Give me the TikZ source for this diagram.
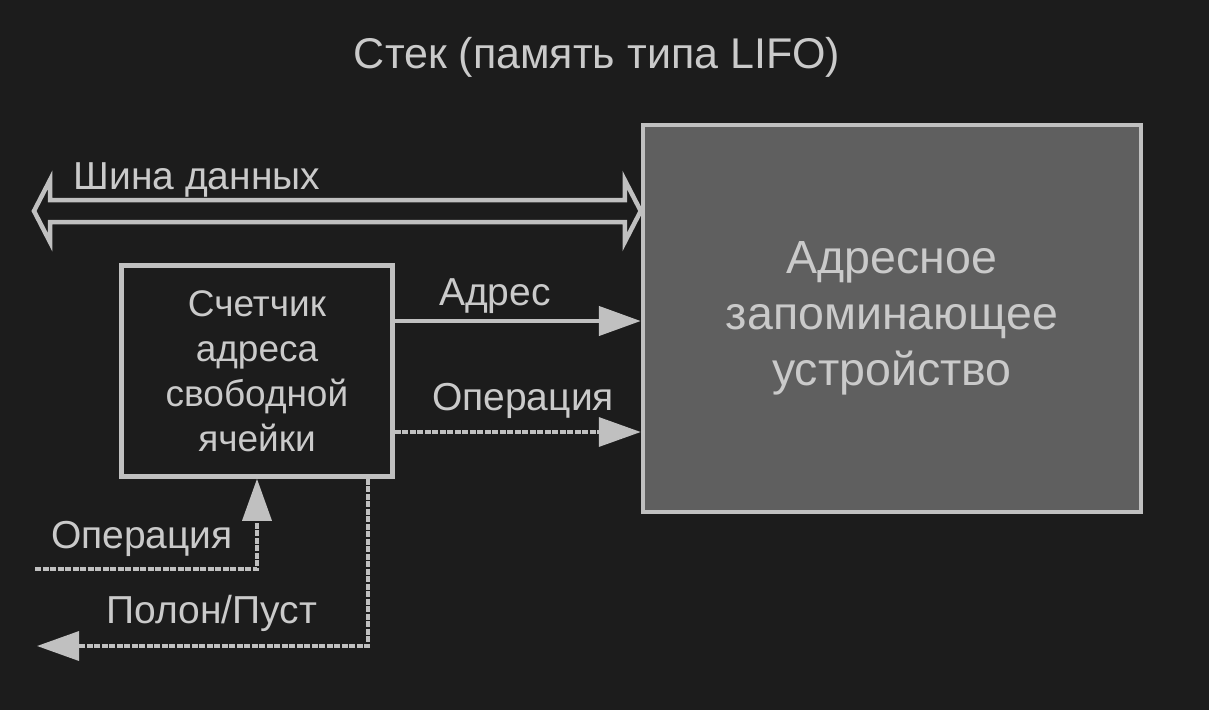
\documentclass[tikz,border=0pt]{standalone}
\usepackage{fontspec}
\setmainfont{Liberation Sans}
\usetikzlibrary{arrows.meta}
\definecolor{bg}{HTML}{1C1C1C}
\definecolor{ln}{HTML}{C0C0C0}
\definecolor{tx}{HTML}{CACACA}
\definecolor{boxfill}{HTML}{5F5F5F}
\begin{document}
\begin{tikzpicture}[x=1pt,y=-1pt,
  boxstyle/.style={draw=ln, line width=4.5pt, inner sep=0pt, align=center, text=tx},
  lbl/.style={text=tx, inner sep=0pt, font=\fontsize{39}{44}\selectfont},
  solidarr/.style={draw=ln, line width=4.5pt, -{Triangle[length=42pt,width=29pt]}, ln},
  dasharr/.style={draw=ln, line width=3.5pt, dash pattern=on 6pt off 1.5pt},
  tip/.style={-{Triangle[length=42pt,width=29pt]}}
]
\fill[bg] (0,0) rectangle (1209,710);
\useasboundingbox (0,0) rectangle (1209,710);

\node[text=tx, inner sep=0pt, font=\fontsize{43}{48}\selectfont] (title) at (597,57) {Стек (память типа LIFO)};

\node[boxstyle, fill=boxfill, minimum width=498pt, minimum height=387pt,
      font=\fontsize{46.5}{56}\selectfont] (mem) at (892,318.5)
      {Адресное\\запоминающее\\устройство};

\node[boxstyle, fill=bg, minimum width=271pt, minimum height=211pt,
      font=\fontsize{37}{45}\selectfont] (cnt) at (257,371)
      {Счетчик\\адреса\\свободной\\ячейки};

% data bus
\draw[draw=ln, line width=4.5pt, line join=miter, fill=bg]
  (34,211) -- (50,180) -- (50,200) -- ([xshift=-16pt]mem.west |- 0,200)
  -- ([xshift=-16pt]mem.west |- 0,180) -- (mem.west |- 0,211)
  -- ([xshift=-16pt]mem.west |- 0,242) -- ([xshift=-16pt]mem.west |- 0,222)
  -- (50,222) -- (50,242) -- cycle;
\node[lbl] (bus) at (197,180) {Шина данных};

% address
\draw[solidarr] (cnt.east |- 0,321) -- (mem.west |- 0,321);
\node[lbl] (adr) at (495,296) {Адрес};

% operation to memory
\draw[dasharr, tip, ln] (cnt.east |- 0,432) -- (mem.west |- 0,432);
\node[lbl] (op1) at (523,401) {Операция};

% operation into counter
\coordinate (opin) at (35,569);
\draw[dasharr, tip, ln] (opin) -- (257,569) -- (cnt.south -| 257,0);
\node[lbl] (op2) at (142,539) {Операция};

% full/empty out
\coordinate (fullout) at (37,646);
\draw[dasharr, tip, ln] (cnt.south -| 368,0) -- (368,646) -- (fullout);
\node[lbl] (full) at (212,613) {Полон/Пуст};
\end{tikzpicture}
\end{document}
